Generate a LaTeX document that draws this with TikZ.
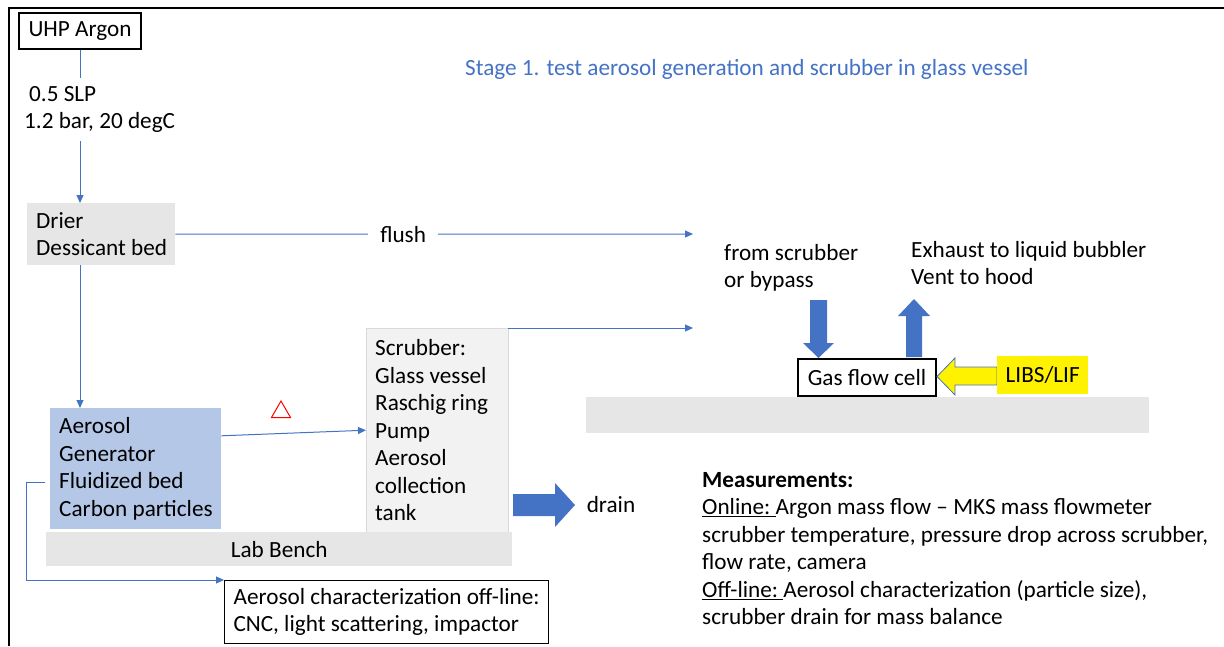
\documentclass[tikz,border=0pt]{standalone}
\usepackage{fontspec}
\setmainfont{Carlito}
\usetikzlibrary{shapes,arrows.meta}
\definecolor{pipeblue}{HTML}{4472C4}
\definecolor{benchgray}{HTML}{E6E6E6}
\definecolor{scrubgray}{HTML}{F2F2F2}
\definecolor{aeroblue}{HTML}{B4C7E7}

\begin{document}
\begin{tikzpicture}[x=1pt,y=-1pt]
\tikzstyle{every node}=[font=\fontsize{23.2}{27.5}\selectfont]
\tikzstyle{pipe}=[draw=pipeblue, line width=1pt, -{Triangle[length=8pt,width=7pt]}]
\tikzstyle{plain}=[draw=pipeblue, line width=1pt]
\tikzstyle{tag}=[align=left, inner sep=0pt, anchor=west]
\tikzstyle{slab}=[fill=benchgray, inner sep=0pt, anchor=north west]

\useasboundingbox (0,0) rectangle (1224,646);
\draw[line width=1.5pt] (9,646) -- (9,8) -- (1224,8);

% gas supply and drier
\node[draw, line width=1.2pt, minimum width=122pt, minimum height=36pt, inner sep=0pt] (argon) at (80,31) {UHP Argon};
\node[align=left, inner xsep=0pt, minimum height=63pt, anchor=west] (slp) at (24,109.5) {\hspace*{5pt}0.5 SLP\\1.2 bar, 20 degC};
\node[slab, minimum width=148pt, minimum height=62pt] (drier) at (27,203) {};
\node[tag] (driertxt) at ([xshift=9pt]drier.west) {Drier\\Dessicant bed};

% bench items
\node[slab, fill=aeroblue, minimum width=171pt, minimum height=121pt] (aero) at (50,408) {};
\node[tag] (aerotxt) at ([xshift=9pt]aero.west) {Aerosol\\Generator\\Fluidized bed\\Carbon particles};
\node[slab, fill=scrubgray, draw=black!15, minimum width=142pt, minimum height=204pt] (scrub) at (366,328) {};
\node[tag] (scrubtxt) at ([xshift=9pt]scrub.west) {Scrubber:\\Glass vessel\\Raschig ring\\Pump\\Aerosol\\collection\\tank};
\node[slab, minimum width=466pt, minimum height=34pt] (bench) at (46,532) {};
\node (benchtxt) at (bench) {Lab Bench};
\node[draw, line width=1.2pt, align=left, inner xsep=9pt, minimum height=63pt, anchor=north west] (offline) at (224,580) {Aerosol characterization off-line:\\CNC, light scattering, impactor};
\node[regular polygon, regular polygon sides=3, draw=red, line width=1pt, minimum size=22pt, inner sep=0pt] (delta) at (281,412) {};

% gas lines
\draw[plain] (argon) -- (argon |- slp.north);
\draw[pipe] (argon |- slp.south) -- (argon |- drier.north);
\draw[pipe] (argon |- drier.south) -- (argon |- aero.north);
\coordinate (flushend) at (693,234);
\draw[pipe] (drier.east) -- (flushend) node[pos=0.44, fill=white, inner xsep=12pt, inner ysep=2pt] (flush) {flush};
\coordinate (cellin) at (693,328);
\draw[pipe] (scrub.north east) -- (cellin);
\draw[pipe] (aero.21) -- (scrub.west);
\coordinate (tap) at (45,482);
\draw[pipe] (tap) -- ++(-19,0) |- (offline.north west);

% drain
\fill[pipeblue] (513,494) -- (555,494) -- (555,483) -- (575,505) -- (555,527) -- (555,516) -- (513,516) -- cycle;
\node (drain) at (611,505) {drain};

% flow cell
\node[slab, minimum width=563pt, minimum height=36pt] (rbench) at (586,397) {};
\node[draw, fill=white, line width=1.2pt, minimum width=138pt, minimum height=37pt, inner sep=0pt] (cell) at (867,377.5) {Gas flow cell};
\fill[pipeblue] (810,300) -- (827,300) -- (827,343) -- (834,343) -- (818.5,358) -- (803,343) -- (810,343) -- cycle;
\fill[pipeblue] (906,357) -- (922,357) -- (922,316) -- (930,316) -- (914,299) -- (898,316) -- (906,316) -- cycle;
\filldraw[fill=yellow, draw=pipeblue, line width=0.8pt] (997,367) -- (955,367) -- (955,358) -- (937,376.5) -- (955,395) -- (955,385) -- (997,385) -- cycle;
\node[fill=yellow, minimum width=91pt, minimum height=38pt, inner sep=0pt, anchor=north west] (libs) at (997,356) {LIBS/LIF};

% labels
\node[tag] (src) at (724,268) {from scrubber\\or bypass};
\node[tag] (exhaust) at (911,263) {Exhaust to liquid bubbler\\Vent to hood};
\node[tag, text=pipeblue] (title) at (465,69) {Stage 1. test aerosol generation and scrubber in glass vessel};
\node[tag] (meas) at (702,548.5) {\textbf{Measurements:}\\\underline{Online:\ }Argon mass flow -- MKS mass flowmeter\\scrubber temperature, pressure drop across scrubber,\\flow rate, camera\\\underline{Off-line:\ }Aerosol characterization (particle size),\\scrubber drain for mass balance};
\end{tikzpicture}
\end{document}
